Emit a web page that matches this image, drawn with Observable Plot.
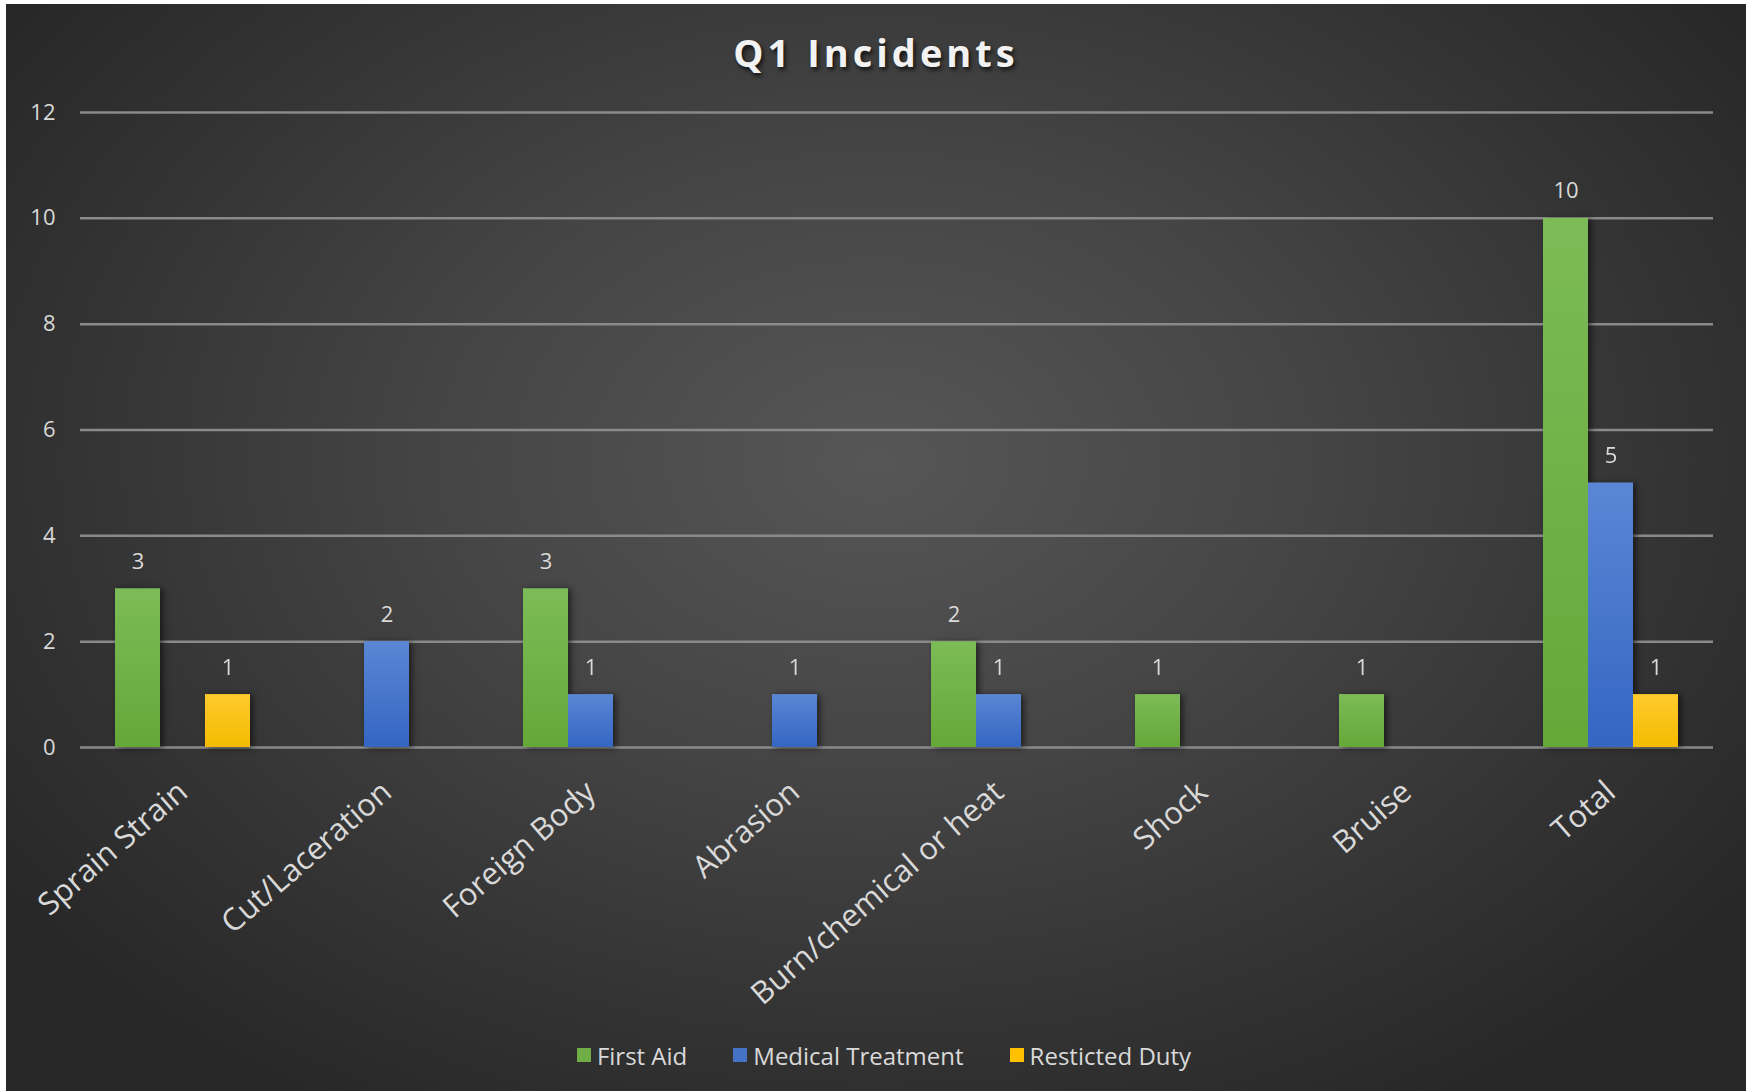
<!DOCTYPE html>
<html>
<head>
<meta charset="utf-8">
<script src="https://cdn.jsdelivr.net/npm/d3@7"></script>
<script src="https://cdn.jsdelivr.net/npm/@observablehq/plot@0.6"></script>
<style>
  html, body { margin: 0; padding: 0; background: #ffffff; width: 1749px; height: 1091px; overflow: hidden; }
  #box {
    position: absolute; left: 6px; top: 4px; width: 1740px; height: 1087px;
    background: radial-gradient(ellipse 62% 70% at 50% 42%, #565656 0%, #454545 40%, #333333 75%, #272727 100%);
    font-family: "Open Sans", "DejaVu Sans", sans-serif;
  }
  #title {
    height: 91px; line-height: 96px; text-align: center; color: #f2f2f2;
    font-size: 38px; font-weight: 700; letter-spacing: 4px;
    text-shadow: 2px 3px 4px rgba(0,0,0,0.7);
  }
  #chart { position: relative; width: 1740px; height: 927px; }
  #chart svg { position: absolute; left: 0; top: 0; }
  #legend {
    height: 66px; display: flex; align-items: center; justify-content: center;
    color: #d9d9d9; font-size: 24px; padding-left: 16px;
  }
  .item { display: flex; align-items: center; margin: 0 23px; }
  .sw { width: 14px; height: 14px; margin-right: 6px; }
  svg g[aria-label="bar"] { filter: drop-shadow(3px 1px 3px rgba(0,0,0,0.55)); }
</style>
</head>
<body>
<div id="box">
  <div id="title">Q1 Incidents</div>
  <div id="chart"></div>
  <div id="legend"></div>
</div>
<script>
const categories = ["Sprain Strain", "Cut/Laceration", "Foreign Body", "Abrasion", "Burn/chemical or heat", "Shock", "Bruise", "Total"];
const series = ["First Aid", "Medical Treatment", "Resticted Duty"];
const firstAid = [3, 0, 3, 0, 2, 1, 1, 10];
const medicalTreatment = [0, 2, 1, 1, 1, 0, 0, 5];
const restrictedDuty = [1, 0, 0, 0, 0, 0, 0, 1];
const yTicks = [0, 2, 4, 6, 8, 10, 12];
const colors = ["#70ad47", "#4472c4", "#ffc000"];

const valuesBySeries = [firstAid, medicalTreatment, restrictedDuty];
const rows = [];
categories.forEach((c, i) => {
  series.forEach((s, j) => {
    const v = valuesBySeries[j][i];
    if (v > 0) rows.push({category: c, series: s, value: v});
  });
});

const gradIds = ["gFirstAid", "gMedical", "gRestricted"];
const gradStops = [["#7cbb57", "#65a838"], ["#5a86d5", "#3466c2"], ["#ffcb2e", "#f3bb00"]];

const common = {
  width: 1740,
  height: 927,
  marginLeft: 74,
  marginRight: 33,
  marginTop: 17,
  marginBottom: 275,
  style: {background: "transparent", color: "#d9d9d9", fontFamily: "'Open Sans', sans-serif", overflow: "visible"}
};

// Background layer: gridlines and y axis spanning the whole frame
const gridSvg = Plot.plot({
  ...common,
  y: {domain: [0, 12], axis: null},
  marks: [
    Plot.gridY(yTicks, {stroke: "#8a8a8a", strokeOpacity: 1, strokeWidth: 2.5}),
    Plot.axisY({ticks: yTicks, tickSize: 0, tickPadding: 25, fontSize: 22, label: null, fill: "#d9d9d9"})
  ]
});

// Foreground layer: grouped bars via fx facets
const svg = Plot.plot({
  ...common,
  fx: {domain: categories, paddingInner: 0.33, paddingOuter: 0.167, label: null},
  x: {domain: series, padding: 0, axis: null},
  y: {domain: [0, 12], axis: null},
  color: {type: "ordinal", domain: series, range: gradIds.map(id => `url(#${id})`)},
  marks: [
    Plot.barY(rows, {fx: "category", x: "series", y: "value", fill: "series"}),
    Plot.text(rows, {fx: "category", x: "series", y: "value", text: d => String(d.value),
      dy: -27, fill: "#d9d9d9", fontSize: 22}),
    Plot.axisFx({anchor: "bottom", tickRotate: -41, tickSize: 0, tickPadding: 40, fontSize: 31, label: null, fill: "#d9d9d9"})
  ]
});

const ns = "http://www.w3.org/2000/svg";
const defs = document.createElementNS(ns, "defs");
gradIds.forEach((id, k) => {
  const g = document.createElementNS(ns, "linearGradient");
  g.setAttribute("id", id);
  g.setAttribute("x1", "0"); g.setAttribute("y1", "0");
  g.setAttribute("x2", "0"); g.setAttribute("y2", "1");
  gradStops[k].forEach((c, i) => {
    const s = document.createElementNS(ns, "stop");
    s.setAttribute("offset", i === 0 ? "0" : "1");
    s.setAttribute("stop-color", c);
    g.appendChild(s);
  });
  defs.appendChild(g);
});
svg.insertBefore(defs, svg.firstChild);
const chart = document.getElementById("chart");
chart.appendChild(gridSvg);
chart.appendChild(svg);

const legend = document.getElementById("legend");
series.forEach((s, i) => {
  const item = document.createElement("div");
  item.className = "item";
  const sw = document.createElement("div");
  sw.className = "sw";
  sw.style.background = colors[i];
  const label = document.createElement("span");
  label.textContent = s;
  item.appendChild(sw);
  item.appendChild(label);
  legend.appendChild(item);
});
</script>
</body>
</html>
